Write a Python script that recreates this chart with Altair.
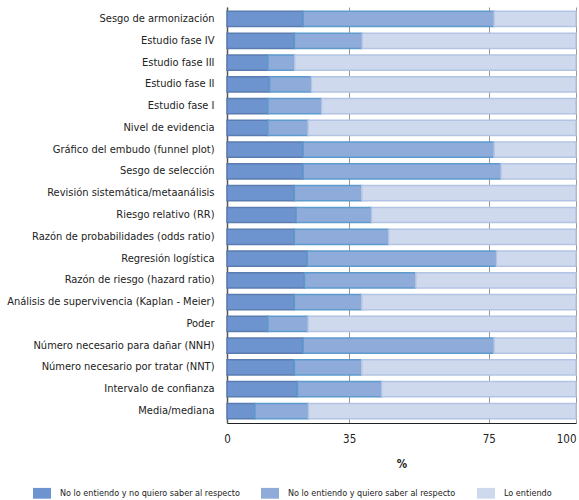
import altair as alt
import pandas as pd

categorias = [
    "Sesgo de armonización",
    "Estudio fase IV",
    "Estudio fase III",
    "Estudio fase II",
    "Estudio fase I",
    "Nivel de evidencia",
    "Gráfico del embudo (funnel plot)",
    "Sesgo de selección",
    "Revisión sistemática/metaanálisis",
    "Riesgo relativo (RR)",
    "Razón de probabilidades (odds ratio)",
    "Regresión logística ",
    "Razón de riesgo (hazard ratio)",
    "Análisis de supervivencia (Kaplan - Meier)",
    "Poder",
    "Número necesario para dañar (NNH)",
    "Número necesario por tratar (NNT)",
    "Intervalo de confianza",
    "Media/mediana",
]
no_quiero = [21.8, 19.3, 11.7, 12.2, 11.7, 11.7, 21.8, 21.8, 19.3, 19.8, 19.3, 23.0, 22.2, 19.3, 11.7, 21.8, 19.3, 20.2, 8.0]
quiero = [54.7, 19.4, 7.7, 12.0, 15.4, 11.5, 54.7, 56.7, 19.3, 21.6, 27.0, 54.2, 31.9, 19.3, 11.5, 54.7, 19.3, 24.1, 15.3]
entiendo = [round(100 - a - b, 1) for a, b in zip(no_quiero, quiero)]

series = [
    "No lo entiendo y no quiero saber al respecto",
    "No lo entiendo y quiero saber al respecto",
    "Lo entiendo",
]
fills = ["#6d94cf", "#8fabd9", "#cfd9ed"]
strokes = ["#5a7cb0", "#5e9bcd", "#b3c3e3"]
x_ticks = [0, 35, 75, 100]

rows = []
for i, c in enumerate(categorias):
    for j, vals in enumerate([no_quiero, quiero, entiendo]):
        rows.append({"cat": c, "serie": series[j], "orden": j, "valor": vals[i]})
df = pd.DataFrame(rows)

FONT = "DejaVu Sans Condensed"

chart = (
    alt.Chart(df)
    .mark_bar(strokeWidth=1.5)
    .encode(
        y=alt.Y(
            "cat:N",
            sort=categorias,
            title=None,
            scale=alt.Scale(paddingInner=0.3, paddingOuter=0.2),
            axis=alt.Axis(
                ticks=False,
                domainColor="#555555",
                domainWidth=1.5,
                labelFont=FONT,
                labelFontSize=11,
                labelColor="#222222",
                labelPadding=13,
                labelLimit=300,
            ),
        ),
        x=alt.X(
            "valor:Q",
            stack="zero",
            scale=alt.Scale(domain=[0, 100], nice=False),
            title="%",
            axis=alt.Axis(
                values=x_ticks,
                ticks=False,
                grid=True,
                gridColor="#999999",
                gridWidth=1,
                domainColor="#222222",
                domainWidth=1.2,
                labelFont=FONT,
                labelFontSize=11.5,
                labelColor="#222222",
                labelPadding=10,
                labelFlush=False,
                labelAlign=alt.ExprRef(expr="datum.value == 100 ? 'right' : 'center'"),
                titleFont=FONT,
                titleFontSize=11.5,
                titleFontWeight="bold",
                titleColor="#222222",
                titlePadding=14,
            ),
        ),
        color=alt.Color(
            "serie:N",
            scale=alt.Scale(domain=series, range=fills),
            title=None,
            legend=alt.Legend(
                orient="none",
                legendX=-194,
                legendY=477,
                direction="horizontal",
                symbolType="M-1,-0.6H1V0.6H-1Z",
                symbolSize=324,
                symbolStrokeWidth=0,
                symbolOpacity=1,
                labelOffset=9,
                columnPadding=21,
                labelFont=FONT,
                labelFontSize=9,
                labelColor="#222222",
                labelLimit=400,
            ),
        ),
        stroke=alt.Stroke(
            "serie:N", scale=alt.Scale(domain=series, range=strokes), legend=None
        ),
        order=alt.Order("orden:Q", sort="ascending"),
    )
    .properties(
        width=349,
        height=416,
        padding={"left": 227, "top": 7, "right": 3, "bottom": 77},
        autosize=alt.AutoSizeParams(type="none"),
    )
    .configure_view(stroke=None)
)

chart.save("out.html", embed_options={"renderer": "svg", "actions": False})
